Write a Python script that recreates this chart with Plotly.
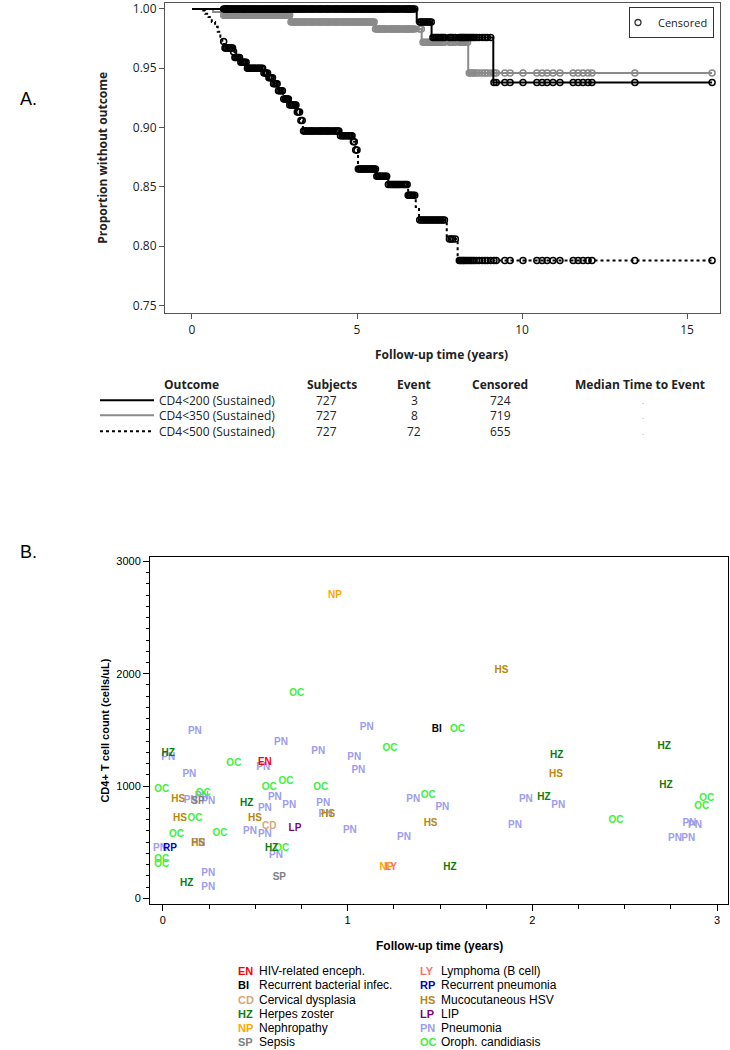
import plotly.graph_objects as go

W, H = 730, 1050

# ---------- panel A : proportion without outcome (KM steps) ----------
km200_t = [0, 6.81, 7.26, 9.13, 15.76]
km200_s = [1.0, 0.989, 0.976, 0.938, 0.938]

km350_t = [0, 0.64, 0.95, 2.97, 5.55, 6.96, 8.37, 15.76]
km350_s = [1.0, 0.9975, 0.9947, 0.989, 0.983, 0.972, 0.946, 0.946]

km500_t = [0, 0.25, 0.40, 0.50, 0.60, 0.70, 0.78, 0.86, 0.92, 0.97, 1.24, 1.30, 1.45,
           1.67, 2.15, 2.30, 2.45, 2.60, 2.76, 2.95, 3.18, 3.27, 3.36, 4.48, 4.88, 4.95,
           5.03, 5.60, 5.95, 6.55, 6.78, 6.88, 7.72, 8.05, 15.76]
km500_s = [1.0, 0.9986, 0.9959, 0.9931, 0.9890, 0.9849, 0.9808, 0.9766, 0.9725, 0.9670,
           0.9640, 0.9590, 0.9550, 0.9500, 0.9460, 0.9420, 0.9370, 0.9310, 0.9240, 0.9190,
           0.9130, 0.9060, 0.8970, 0.8930, 0.8880, 0.8810, 0.8650, 0.8590, 0.8520, 0.8430,
           0.8330, 0.8220, 0.8060, 0.7880, 0.7880]

# censoring times (shared by the three outcomes)
censor_t = [0.96, 1.0, 1.03, 1.05, 1.09, 1.12, 1.16, 1.2, 1.23, 1.26, 1.3, 1.33, 1.37, 1.4,
            1.44, 1.48, 1.52, 1.55, 1.58, 1.6, 1.64, 1.68, 1.72, 1.75, 1.79, 1.83, 1.87, 1.9,
            1.94, 1.98, 2.02, 2.05, 2.1, 2.14, 2.18, 2.22, 2.25, 2.29, 2.33, 2.37, 2.4, 2.44,
            2.47, 2.51, 2.55, 2.58, 2.62, 2.66, 2.7, 2.74, 2.78, 2.82, 2.85, 2.89, 2.92, 2.96,
            3.0, 3.04, 3.08, 3.12, 3.15, 3.19, 3.22, 3.26, 3.3, 3.34, 3.38, 3.42, 3.45, 3.5,
            3.55, 3.58, 3.62, 3.66, 3.7, 3.75, 3.8, 3.84, 3.88, 3.92, 3.95, 4.0, 4.05, 4.08,
            4.12, 4.16, 4.2, 4.25, 4.3, 4.34, 4.38, 4.42, 4.45, 4.5, 4.55, 4.58, 4.62, 4.66,
            4.7, 4.74, 4.78, 4.82, 4.85, 4.89, 4.92, 4.96, 5.0, 5.04, 5.08, 5.12, 5.15, 5.19,
            5.22, 5.26, 5.3, 5.34, 5.38, 5.42, 5.45, 5.49, 5.52, 5.56, 5.6, 5.64, 5.68, 5.72,
            5.75, 5.79, 5.82, 5.86, 5.9, 5.95, 6.0, 6.04, 6.08, 6.12, 6.15, 6.19, 6.22, 6.26,
            6.3, 6.35, 6.4, 6.44, 6.48, 6.52, 6.55, 6.58, 6.62, 6.66, 6.7, 6.75, 6.9, 6.95,
            7.0, 7.05, 7.1, 7.15, 7.2, 7.25, 7.3, 7.35, 7.4, 7.45, 7.5, 7.55, 7.6, 7.65, 7.8,
            7.85, 7.9, 7.98, 8.1, 8.14, 8.18, 8.22, 8.25, 8.3, 8.35, 8.4, 8.45, 8.5, 8.55,
            8.62, 8.7, 8.8, 8.88, 8.95, 9.05, 9.15, 9.22, 9.48, 9.64, 10.03, 10.45, 10.61,
            10.76, 10.94, 11.15, 11.55, 11.70, 11.85, 12.0, 12.12, 13.42, 15.76]

outcome_names = ["CD4&lt;200 (Sustained)", "CD4&lt;350 (Sustained)", "CD4&lt;500 (Sustained)"]
n_subjects = [727, 727, 727]
n_events = [3, 8, 72]
n_censored = [724, 719, 655]
median_time = [".", ".", "."]

# ---------- panel B : CD4 count at clinical event ----------
ev_code = ["PN"] * 35 + ["OC"] * 19 + ["HZ"] * 9 + ["HS"] * 8 + ["SP"] * 2 + \
          ["CD", "LP", "RP", "NP", "NP", "LY", "EN", "BI"]
ev_time = [0.173, 0.639, 0.841, 0.029, 0.543, 0.143, 0.15, 0.245, 0.21, 0.606, 0.552, 0.684,
           0.868, 0.88, 0.471, 0.552, 0.191, -0.016, 0.612, 0.245, 0.245, 1.103, 1.036, 1.058,
           1.355, 1.513, 1.012, 1.305, 1.965, 2.14, 1.906, 2.85, 2.88, 2.772, 2.844,
           0.724, 0.384, -0.007, 0.576, 0.666, 0.854, 0.218, 0.173, 0.074, 0.309, 0.643,
           -0.007, -0.007, 1.595, 1.229, 1.436, 2.453, 2.944, 2.917,
           0.029, 0.453, 0.588, 0.128, 1.554, 2.131, 2.714, 2.063, 2.723,
           0.083, 0.092, 0.498, 0.191, 0.895, 1.449, 1.833, 2.128,
           0.19, 0.63,
           0.576, 0.715, 0.038, 0.931, 1.21, 1.235, 0.552, 1.482]
ev_cd4 = [1487, 1384, 1310, 1251, 1162, 1100, 871, 865, 905, 895, 797, 827,
          842, 742, 598, 569, 486, 442, 382, 225, 95, 1518, 1256, 1138,
          877, 806, 604, 540, 877, 827, 649, 670, 650, 536, 536,
          1825, 1203, 972, 990, 1037, 990, 936, 714, 569, 575, 442,
          345, 300, 1502, 1331, 916, 693, 886, 818,
          1292, 847, 442, 131, 273, 1271, 1351, 900, 1004,
          880, 714, 714, 486, 745, 669, 2033, 1102,
          865, 184,
          640, 619, 442, 2694, 278, 278, 1212, 1502]

code_color = {"EN": "#ff0000", "BI": "#000000", "CD": "#d2a878", "HZ": "#0a7d0a",
              "NP": "#ffa500", "SP": "#808080", "LY": "#ff6a6a", "RP": "#0000cc",
              "HS": "#b8860b", "LP": "#800080", "PN": "#9c9cf0", "OC": "#3cf03c"}
legend_left = [("EN", "HIV-related enceph."), ("BI", "Recurrent bacterial infec."),
               ("CD", "Cervical dysplasia"), ("HZ", "Herpes zoster"),
               ("NP", "Nephropathy"), ("SP", "Sepsis")]
legend_right = [("LY", "Lymphoma (B cell)"), ("RP", "Recurrent pneumonia"),
                ("HS", "Mucocutaneous HSV"), ("LP", "LIP"),
                ("PN", "Pneumonia"), ("OC", "Oroph. candidiasis")]


def surv_at(t, times, surv):
    s = surv[0]
    for tt, ss in zip(times, surv):
        if tt <= t:
            s = ss
    return s


def px(x):
    return x / W


def py(y):
    return 1 - y / H


fig = go.Figure()

curves = [(km500_t, km500_s, "#000000", "dot"),
          (km350_t, km350_s, "#8a8a8a", "solid"),
          (km200_t, km200_s, "#000000", "solid")]
for t, s, col, dash in curves:
    fig.add_trace(go.Scatter(x=t, y=s, mode="lines", line=dict(color=col, width=2, dash=dash, shape="hv"),
                             showlegend=False, hoverinfo="skip", xaxis="x", yaxis="y"))
    fig.add_trace(go.Scatter(x=censor_t, y=[surv_at(c, t, s) for c in censor_t], mode="markers",
                             marker=dict(symbol="circle-open", size=6, color=col, line=dict(width=1.5)),
                             showlegend=False, xaxis="x", yaxis="y"))

fig.add_trace(go.Scatter(x=[None], y=[None], mode="markers", name="Censored",
                         marker=dict(symbol="circle-open", size=6, color="#333", line=dict(width=1.3)),
                         xaxis="x", yaxis="y"))

order = ["PN", "OC", "HZ", "HS", "SP", "CD", "LP", "RP", "NP", "LY", "EN", "BI"]
for code in order:
    xs = [t for c, t in zip(ev_code, ev_time) if c == code]
    ys = [v for c, v in zip(ev_code, ev_cd4) if c == code]
    fig.add_trace(go.Scatter(x=xs, y=ys, mode="text", text=[code] * len(xs),
                             textfont=dict(family="Liberation Sans", size=10, color=code_color[code], weight="bold"),
                             showlegend=False, xaxis="x2", yaxis="y2"))

fontA = "Open Sans"
fontB = "Liberation Sans"
axA = dict(showline=True, linecolor="#555", linewidth=1, mirror=True, ticks="outside", ticklen=5,
           tickcolor="#555", showgrid=False, zeroline=False, tickfont=dict(family=fontA, size=12, color="#222"))
axB = dict(showline=True, linecolor="#000", linewidth=1, mirror=True, ticks="outside", ticklen=6,
           tickcolor="#000", showgrid=False, zeroline=False, tickfont=dict(family=fontB, size=11, color="#000"))

fig.update_layout(
    width=W, height=H, margin=dict(l=0, r=0, t=0, b=0),
    paper_bgcolor="white", plot_bgcolor="white",
    xaxis=dict(axA, anchor="y", domain=[px(165), px(720)], range=[-0.818, 16.0], tickvals=[0, 5, 10, 15]),
    yaxis=dict(axA, anchor="x", domain=[py(312), py(1)], range=[0.7433, 1.0050],
               tickvals=[0.75, 0.80, 0.85, 0.90, 0.95, 1.00], tickformat=".2f"),
    xaxis2=dict(axB, anchor="y2", domain=[px(150), px(728)], range=[-0.07, 3.059], tick0=0, dtick=1,
                minor=dict(dtick=0.25, ticks="outside", ticklen=4, tickcolor="#000")),
    yaxis2=dict(axB, anchor="x2", domain=[py(904), py(556)], range=[-53, 3040], tick0=0, dtick=1000,
                minor=dict(dtick=100, ticks="outside", ticklen=3, tickcolor="#000")),
    legend=dict(x=px(714), xanchor="right", y=py(5), yanchor="top", bordercolor="#333", borderwidth=1,
                bgcolor="white", font=dict(family=fontA, size=11, color="#222"), itemwidth=30,
                tracegroupgap=0, indentation=-12),
)

ann = []


def text(x, y, s, size=12, bold=False, family=fontA, color="#222", xanchor="center", angle=0):
    ann.append(dict(x=px(x), y=py(y), xref="paper", yref="paper", text=f"<b>{s}</b>" if bold else s,
                    showarrow=False, xanchor=xanchor, yanchor="middle", textangle=angle,
                    font=dict(family=family, size=size, color=color)))


text(18, 97, "A.", size=18, family=fontB, color="#000", xanchor="left")
text(18, 551, "B.", size=18, family=fontB, color="#000", xanchor="left")
text(103, 156, "Proportion without outcome", bold=True, angle=-90)
text(442, 353, "Follow-up time (years)", bold=True)

# summary table under panel A
text(192, 383, "Outcome", bold=True)
text(332, 383, "Subjects", bold=True)
text(414, 383, "Event", bold=True)
text(500, 383, "Censored", bold=True)
text(640, 383, "Median Time to Event", bold=True)
row_y = [399, 414, 430]
row_style = [("#000", "solid"), ("#8a8a8a", "solid"), ("#000", "dot")]
shapes = []
for i, yy in enumerate(row_y):
    text(157, yy, outcome_names[i], xanchor="left")
    text(326, yy, str(n_subjects[i]))
    text(414, yy, str(n_events[i]))
    text(500, yy, str(n_censored[i]))
    text(643, yy, median_time[i], size=8, color="#999")
    shapes.append(dict(type="line", xref="paper", yref="paper", x0=px(100), x1=px(154),
                       y0=py(yy), y1=py(yy), line=dict(color=row_style[i][0], width=2, dash=row_style[i][1])))

# panel B titles and key
text(105, 730, "CD4+ T cell count (cells/uL)", size=11, bold=True, family=fontB, color="#000", angle=-90)
text(439, 946, "Follow-up time (years)", size=12, bold=True, family=fontB, color="#000")
key_y = [971, 985, 1000, 1014, 1028, 1042]
for col_x, rows in ((236, legend_left), (418, legend_right)):
    for (code, desc), yy in zip(rows, key_y):
        text(col_x, yy, code, size=11, bold=True, family=fontB, color=code_color[code], xanchor="left")
        text(col_x + 21, yy, desc, size=12, family=fontB, color="#000", xanchor="left")

fig.update_layout(annotations=ann, shapes=shapes)
fig.write_html("out.html", config={"displayModeBar": False},
               post_script="document.body.style.margin='0px';")
